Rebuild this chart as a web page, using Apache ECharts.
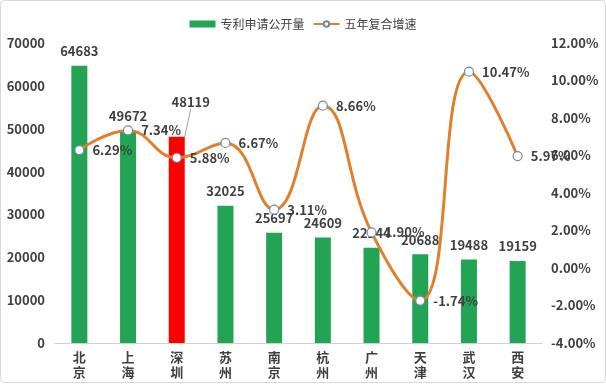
<!DOCTYPE html>
<html><head><meta charset="utf-8">
<script src="https://cdn.jsdelivr.net/npm/echarts@6/dist/echarts.min.js"></script>
<style>html,body{margin:0;padding:0;background:#fff}#c{width:606px;height:386px}</style>
</head><body><div id="c"></div>
<script>
var categories = ['北京','上海','深圳','苏州','南京','杭州','广州','天津','武汉','西安'];
var patents = [64683, 49672, 48119, 32025, 25697, 24609, 22244, 20688, 19488, 19159];
var growth = [6.29, 7.34, 5.88, 6.67, 3.11, 8.66, 1.90, -1.74, 10.47, 5.97];
var leftTicks = {min: 0, max: 70000, interval: 10000};
var rightTicks = {min: -4, max: 12, interval: 2};
var highlightCity = '深圳';

var FONT = '"Noto Sans CJK SC", "Noto Sans", sans-serif';
var TXT = '#404040';
var chart = echarts.init(document.getElementById('c'), null, {renderer: 'canvas'});
chart.setOption({
  animation: false,
  textStyle: {fontFamily: FONT},
  graphic: [{type: 'rect', shape: {x: 0.5, y: 0.5, width: 605, height: 382, r: 4}, style: {fill: 'none', stroke: '#d9d9d9', lineWidth: 1}, silent: true}],
  legend: {
    top: 13, left: 'center', itemGap: 8, itemWidth: 26, itemHeight: 7,
    textStyle: {fontSize: 12, color: TXT, fontFamily: FONT},
    data: [{name: '专利申请公开量', icon: 'rect'}, {name: '五年复合增速'}]
  },
  grid: {left: 55, right: 64, top: 43, bottom: 43},
  xAxis: {
    type: 'category', data: categories,
    axisLine: {lineStyle: {color: '#d0d0d0'}}, axisTick: {show: false},
    axisLabel: {color: TXT, fontSize: 13, fontWeight: 'bold', lineHeight: 15, margin: 7,
      formatter: function (v) { return v.split('').join('\n'); }}
  },
  yAxis: [{
    type: 'value', min: leftTicks.min, max: leftTicks.max, interval: leftTicks.interval,
    splitLine: {show: false}, axisLine: {show: false}, axisTick: {show: false},
    axisLabel: {color: TXT, fontSize: 13, fontWeight: 'bold', margin: 10,
      formatter: function (v) { return String(v); }}
  }, {
    type: 'value', min: rightTicks.min, max: rightTicks.max, interval: rightTicks.interval,
    splitLine: {show: false}, axisLine: {show: false}, axisTick: {show: false},
    axisLabel: {color: TXT, fontSize: 13, fontWeight: 'bold', margin: 9,
      formatter: function (v) { return v.toFixed(2) + '%'; }}
  }],
  series: [{
    name: '专利申请公开量', type: 'bar', barWidth: 16,
    itemStyle: {color: '#23A455'},
    data: patents.map(function (v, i) {
      return categories[i] === highlightCity
        ? {value: v, itemStyle: {color: '#FF0000'}, labelLine: {show: true, lineStyle: {color: '#a0a0a0', width: 1}}}
        : v;
    }),
    label: {show: true, position: 'top', distance: 8, color: TXT, fontSize: 13, fontWeight: 'bold'},
    labelLine: {show: false},
    labelLayout: function (p) {
      if (p.dataIndex === 2) return {dx: 14, dy: -20};
      return {};
    }
  }, {
    name: '五年复合增速', type: 'line', yAxisIndex: 1, smooth: 0.45,
    lineStyle: {color: '#E07F2E', width: 3},
    itemStyle: {color: '#ffffff', borderColor: '#6F8BA8', borderWidth: 1.2},
    symbol: 'circle', symbolSize: 9, showAllSymbol: true,
    data: growth,
    label: {show: true, position: 'right', distance: 8, color: TXT, fontSize: 13, fontWeight: 'bold',
      formatter: function (p) { return p.value.toFixed(2) + '%'; }}
  }]
});
</script></body></html>
